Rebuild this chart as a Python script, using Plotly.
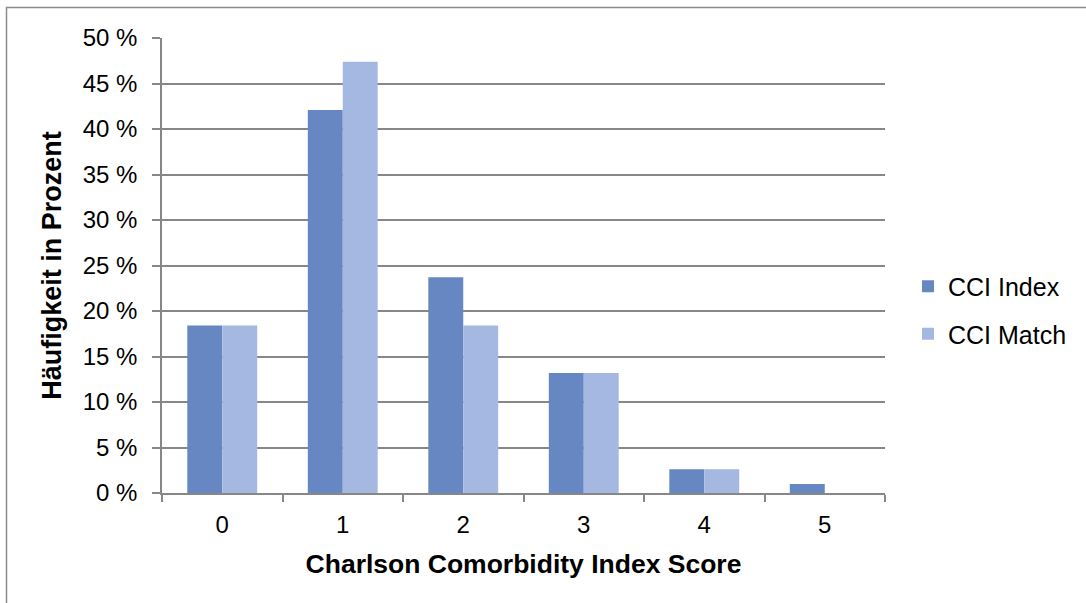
import plotly.graph_objects as go

categories = ["0", "1", "2", "3", "4", "5"]
cci_index = [18.4, 42.1, 23.7, 13.2, 2.6, 1.0]
cci_match = [18.4, 47.4, 18.4, 13.2, 2.6, 0.0]
y_ticks = [0, 5, 10, 15, 20, 25, 30, 35, 40, 45, 50]
y_tick_labels = [f"{v} %" for v in y_ticks]

W, H = 1086, 603
ML, MR, MT, MB = 162, 201, 38, 110
PW, PH = W - ML - MR, H - MT - MB

def px_x(p):
    return (p - ML) / PW

def px_y(p):
    return (H - MB - p) / PH

FONT = "Liberation Sans, Arial, sans-serif"
GRID = "#878787"

fig = go.Figure()
fig.add_trace(go.Bar(x=categories, y=cci_index, name="CCI Index",
                     marker=dict(color="#6787C2", line=dict(width=0)),
                     legendgroup="a"))
fig.add_trace(go.Bar(x=categories, y=cci_match, name="CCI Match",
                     marker=dict(color="#A5B8E2", line=dict(width=0)),
                     legendgroup="b"))

fig.update_layout(
    width=W, height=H,
    margin=dict(l=ML, r=MR, t=MT, b=MB, autoexpand=False),
    paper_bgcolor="white", plot_bgcolor="white",
    barmode="group", bargap=0.42, bargroupgap=0,
    font=dict(family=FONT, size=24, color="black"),
    legend=dict(x=px_x(908), xanchor="left", y=px_y(310), yanchor="middle",
                font=dict(family=FONT, size=25, color="black"),
                tracegroupgap=12, traceorder="grouped",
                bgcolor="rgba(0,0,0,0)", borderwidth=0),
    xaxis=dict(
        type="category", range=[-0.5, 5.5],
        showline=True, linecolor=GRID, linewidth=1.5,
        ticks="outside", tickson="boundaries", ticklen=7, tickcolor=GRID, tickwidth=1.5,
        showgrid=False, tickfont=dict(size=24), ticklabelstandoff=9,
        title=dict(text="<b>Charlson Comorbidity Index Score</b>",
                   font=dict(size=26.5), standoff=18),
        automargin=False,
    ),
    yaxis=dict(
        range=[0, 50], tickvals=y_ticks, ticktext=y_tick_labels,
        showline=True, linecolor=GRID, linewidth=1.5,
        ticks="outside", ticklen=8, tickcolor=GRID, tickwidth=1.5,
        showgrid=True, gridcolor=GRID, gridwidth=1.5,
        zeroline=False, tickfont=dict(size=24), ticklabelstandoff=10,
        title=dict(text="<b>Häufigkeit in Prozent</b>",
                   font=dict(size=27), standoff=13),
        automargin=False,
    ),
    shapes=[dict(type="rect", xref="paper", yref="paper",
                 x0=px_x(6.5), x1=px_x(1095), y0=px_y(615), y1=px_y(7.5),
                 line=dict(color="#8C8C8C", width=1.5), layer="below")],
)

fig.write_html("out.html", config={"displayModeBar": False},
               post_script="document.body.style.margin='0px';")
